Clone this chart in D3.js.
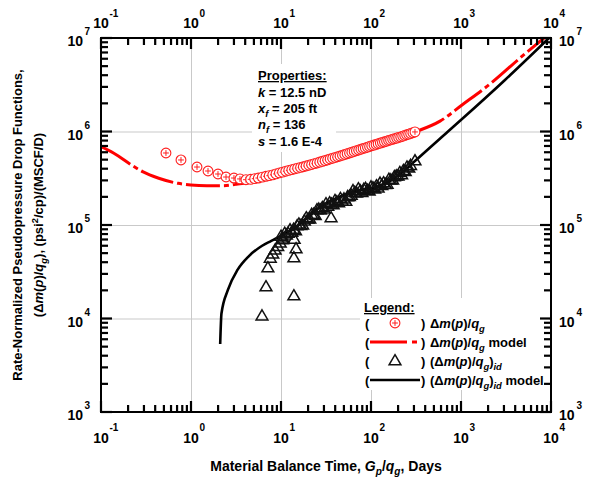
<!DOCTYPE html>
<html>
<head>
<meta charset="utf-8">
<script src="https://cdn.jsdelivr.net/npm/d3@7"></script>
<style>
  body { margin: 0; background: #fff; }
  text { font-family: "Liberation Sans", Arial, sans-serif; font-weight: bold; fill: #000; }
</style>
</head>
<body>
<svg id="chart" width="597" height="481"></svg>
<script>
// Axis decades and their exponent labels
const xDecades = [0.1, 1, 10, 100, 1000, 10000];
const xExponents = ["-1", "0", "1", "2", "3", "4"];
const yDecades = [1e3, 1e4, 1e5, 1e6, 1e7];
const yExponents = ["3", "4", "5", "6", "7"];
const minorSteps = [2, 3, 4, 5, 6, 7, 8, 9];

// Δm(p)/qg field data (material balance time, days)
const rateTime = [0.527, 0.774, 1.166, 1.545, 1.995, 2.45, 3.0, 3.5, 4.08,
  4.6, 5.1, 5.6, 6.2, 6.8, 7.4, 8.1, 8.8, 9.6, 10.4,
  11.3, 12.2, 13.2, 14.2, 15.3, 16.5, 17.7, 19.0, 20.4, 21.9,
  23.5, 25.2, 27.0, 28.9, 30.9, 33.0, 35.2, 37.5, 40.0, 42.6,
  45.3, 48.2, 51.2, 54.4, 57.8, 61.3, 65.0, 68.9, 73.0, 77.3,
  81.8, 86.5, 91.4, 96.5, 102, 108, 114, 120, 127, 134,
  141, 149, 157, 165, 174, 183, 193, 203, 214, 225,
  237, 249, 262, 276, 292, 308];
const rateValue = [589000, 496000, 417000, 378000, 351000, 326000, 318000, 311000, 305000,
  308000, 313000, 318000, 325000, 332000, 337000, 344000, 352000, 361000, 368000,
  376000, 384000, 391000, 398000, 406000, 413000, 420000, 428000, 436000, 444000,
  453000, 461000, 471000, 480000, 489000, 498000, 509000, 518000, 527000, 537000,
  547000, 557000, 568000, 579000, 590000, 601000, 612000, 624000, 634000, 646000,
  658000, 668000, 681000, 692000, 705000, 716000, 728000, 740000, 752000, 764000,
  776000, 789000, 802000, 813000, 826000, 838000, 851000, 865000, 877000, 893000,
  908000, 923000, 938000, 953000, 971000, 989000];

// Δm(p)/qg model
const rateModelTime = [0.1, 0.139, 0.227, 0.29, 0.438, 0.718, 0.995, 1.5, 2.26, 3.14,
  4.7, 7.1, 10.8, 16.3, 24.6, 37.3, 56.5, 85.3, 129, 196,
  308, 585, 1026, 2100, 4530, 8360];
const rateModelValue = [688000, 585000, 428000, 372000, 316000, 279000, 268000, 263000, 263000, 272000,
  288000, 320000, 365000, 409000, 458000, 518000, 586000, 665000, 755000, 855000,
  989000, 1290000, 1920000, 3220000, 6110000, 10000000];

// (Δm(p)/qg)id data
const idealTime = [6.15, 6.81, 7.15, 7.6, 8.1, 8.6, 9.2, 9.8, 10.0, 10.4,
  10.5, 11.0, 11.5, 12.0, 12.6, 13.2, 13.8, 13.9, 13.9, 14.0,
  14.5, 14.7, 15.1, 15.8, 16.6, 17.4, 18.2, 19.1, 20.0, 20.9,
  21.9, 22.9, 24.0, 25.1, 26.3, 27.5, 28.8, 30.2, 31.6, 33.1,
  34.7, 36.0, 36.3, 38.0, 39.8, 41.7, 43.7, 45.7, 47.9, 50.1,
  52.5, 55.0, 57.5, 60.3, 63.1, 66.1, 69.2, 72.4, 75.9, 79.4,
  83.2, 87.1, 91.2, 95.5, 100, 105, 110, 115, 120, 126,
  132, 138, 145, 151, 158, 166, 174, 182, 191, 200,
  209, 219, 229, 240, 251, 263, 275, 308];
const idealValue = [10600, 21700, 34700, 44000, 48600, 53600, 58700, 63800, 75500, 69300,
  72100, 81100, 77600, 81300, 88300, 83200, 89700, 44400, 17400, 70000,
  86500, 55400, 97700, 102000, 98200, 99500, 110000, 119000, 115000, 115000,
  129000, 129000, 126000, 145000, 147000, 144000, 153000, 148000, 168000, 158000,
  172000, 119000, 167000, 164000, 182000, 176000, 172000, 191000, 179000, 189000,
  179000, 200000, 201000, 207000, 232000, 222000, 219000, 243000, 231000, 222000,
  240000, 245000, 234000, 230000, 254000, 249000, 242000, 261000, 247000, 279000,
  264000, 281000, 270000, 272000, 307000, 302000, 301000, 327000, 333000, 332000,
  362000, 344000, 381000, 371000, 415000, 404000, 432000, 483000];

// (Δm(p)/qg)id model
const idealModelTime = [2.11, 2.18, 2.57, 3.30, 4.40, 6.11, 7.80, 10.0, 16.3, 22.7,
  29.1, 40.3, 56.0, 77.6, 108, 150, 226, 308, 717, 1026, 3080, 9500];
const idealModelValue = [5330, 11300, 20200, 33300, 46500, 59600, 67600, 76600, 102600, 137000,
  162000, 191000, 217000, 236000, 251000, 283000, 368000, 483000, 1000000, 1360000, 3560000, 10000000];

const box = { left: 101, right: 551, top: 38, bottom: 412 };
const x = d3.scaleLog().domain([0.1, 1e4]).range([box.left, box.right]);
const y = d3.scaleLog().domain([1e3, 1e7]).range([box.bottom, box.top]);
const plotH = box.bottom - box.top, plotW = box.right - box.left;

const svg = d3.select("#chart");
const FS = 13;

// rich text helper: segments with italic / subscript / superscript parts
function rich(g, px, py, segs, size, anchor, extra) {
  const t = g.append("text").attr("x", px).attr("y", py)
    .attr("font-size", size).attr("text-anchor", anchor || "start");
  if (extra) extra(t);
  let off = 0;
  segs.forEach(s => {
    const target = s.sub ? size * 0.32 : s.sup ? -size * 0.42 : 0;
    const ts = t.append("tspan").text(s.t).attr("dy", target - off);
    off = target;
    if (s.sub || s.sup) ts.attr("font-size", size * 0.72);
    if (s.i) ts.attr("font-style", "italic");
  });
  return t;
}

// gridlines at each decade
const gridX = svg.append("g").attr("transform", `translate(0,${box.bottom})`)
  .call(d3.axisBottom(x).tickValues(xDecades.slice(1, -1)).tickSize(-plotH).tickFormat(""));
const gridY = svg.append("g").attr("transform", `translate(${box.left},0)`)
  .call(d3.axisLeft(y).tickValues(yDecades.slice(1, -1)).tickSize(-plotW).tickFormat(""));
[gridX, gridY].forEach(g => {
  g.select(".domain").remove();
  g.selectAll("line").attr("stroke", "#c9c9c9").attr("stroke-width", 1);
});

// properties block and legend backgrounds
svg.append("rect").attr("x", 252).attr("y", 64).attr("width", 84).attr("height", 88).attr("fill", "#fff");
svg.append("rect").attr("x", 360).attr("y", 298).attr("width", 189).attr("height", 92).attr("fill", "#fff");

// clip to plot area
svg.append("clipPath").attr("id", "plotClip").append("rect")
  .attr("x", box.left).attr("y", box.top).attr("width", plotW).attr("height", plotH);
const plot = svg.append("g").attr("clip-path", "url(#plotClip)");

const line = d3.line().x(d => x(d[0])).y(d => y(d[1])).curve(d3.curveMonotoneX);

plot.append("path").datum(d3.zip(rateModelTime, rateModelValue))
  .attr("d", line).attr("fill", "none").attr("stroke", "#ff0000")
  .attr("stroke-width", 3).attr("stroke-dasharray", "34,4,5,4");
plot.append("path").datum(d3.zip(idealModelTime, idealModelValue))
  .attr("d", line).attr("fill", "none").attr("stroke", "#000")
  .attr("stroke-width", 2.6);

// circle-plus markers
const R = 4.9;
const circ = `M0,${-R}A${R},${R} 0 1,1 0,${R}A${R},${R} 0 1,1 0,${-R}Z`;
const plus = "M-2.9,0H2.9M0,-2.9V2.9";
function circleMark(g) {
  g.append("path").attr("d", circ).attr("fill", "#fff").attr("stroke", "#ff2020").attr("stroke-width", 1.1);
  g.append("path").attr("d", plus).attr("fill", "none").attr("stroke", "#ff2020").attr("stroke-width", 1);
}
// open triangle markers
const tri = "M0,-6.3L5.9,3.8L-5.9,3.8Z";
function triMark(g, fill) {
  g.append("path").attr("d", tri).attr("fill", fill).attr("stroke", "#111").attr("stroke-width", 1.5);
}

plot.selectAll("g.rate").data(d3.zip(rateTime, rateValue)).join("g")
  .attr("class", "rate").attr("transform", d => `translate(${x(d[0])},${y(d[1])})`)
  .each(function () { circleMark(d3.select(this)); });

plot.selectAll("g.ideal").data(d3.zip(idealTime, idealValue)).join("g")
  .attr("class", "ideal").attr("transform", d => `translate(${x(d[0])},${y(d[1])})`)
  .each(function () { triMark(d3.select(this), "none"); });

// frame
svg.append("rect").attr("x", box.left).attr("y", box.top).attr("width", plotW).attr("height", plotH)
  .attr("fill", "none").attr("stroke", "#000").attr("stroke-width", 2);

// inward tick marks on all four sides, drawn as small filled bars:
// long at each decade, short at 2..9
const xTicks = [], yTicks = [];
xDecades.forEach((d, i) => {
  xTicks.push({ v: d, len: 11 });
  if (i < xDecades.length - 1) minorSteps.forEach(m => xTicks.push({ v: d * m, len: 7 }));
});
yDecades.forEach((d, i) => {
  yTicks.push({ v: d, len: 11 });
  if (i < yDecades.length - 1) minorSteps.forEach(m => yTicks.push({ v: d * m, len: 7 }));
});
const TW = 2.2;
const tickLayer = svg.append("g").attr("fill", "#000");
tickLayer.selectAll("rect.xb").data(xTicks).join("rect").attr("class", "xb")
  .attr("x", d => x(d.v) - TW / 2).attr("width", TW)
  .attr("y", d => box.bottom - d.len).attr("height", d => d.len);
tickLayer.selectAll("rect.xt").data(xTicks).join("rect").attr("class", "xt")
  .attr("x", d => x(d.v) - TW / 2).attr("width", TW)
  .attr("y", box.top).attr("height", d => d.len);
tickLayer.selectAll("rect.yl").data(yTicks).join("rect").attr("class", "yl")
  .attr("y", d => y(d.v) - TW / 2).attr("height", TW)
  .attr("x", box.left).attr("width", d => d.len);
tickLayer.selectAll("rect.yr").data(yTicks).join("rect").attr("class", "yr")
  .attr("y", d => y(d.v) - TW / 2).attr("height", TW)
  .attr("x", d => box.right - d.len).attr("width", d => d.len);

// decade labels
const LS = 14;
xDecades.forEach((v, i) => {
  [[443, 431], [28, 17]].forEach(([base, supBase]) => {
    svg.append("text").attr("x", x(v)).attr("y", base).attr("font-size", LS)
      .attr("text-anchor", "middle").text("10");
    svg.append("text").attr("x", x(v) + 8.5).attr("y", supBase).attr("font-size", 10)
      .text(xExponents[i]);
  });
});
yDecades.forEach((v, i) => {
  const py = y(v);
  svg.append("text").attr("x", 83).attr("y", py + 8).attr("font-size", LS)
    .attr("text-anchor", "end").text("10");
  svg.append("text").attr("x", 84.5).attr("y", py - 3).attr("font-size", 10).text(yExponents[i]);
  svg.append("text").attr("x", 559).attr("y", py + 8).attr("font-size", LS).text("10");
  svg.append("text").attr("x", 576.5).attr("y", py - 3).attr("font-size", 10).text(yExponents[i]);
});

// axis titles
rich(svg, 326, 471, [
  { t: "Material Balance Time, " }, { t: "G", i: 1 }, { t: "p", i: 1, sub: 1 },
  { t: "/" }, { t: "q", i: 1 }, { t: "g", i: 1, sub: 1 }, { t: ", Days" }
], 14, "middle");

const yTitle = svg.append("g").attr("transform", "translate(0,225) rotate(-90)");
rich(yTitle, 0, 22, [{ t: "Rate-Normalized Pseudopressure Drop Functions," }], FS, "middle");
rich(yTitle, 0, 43, [
  { t: "(Δ" }, { t: "m", i: 1 }, { t: "(" }, { t: "p", i: 1 }, { t: ")/" }, { t: "q", i: 1 },
  { t: "g", i: 1, sub: 1 }, { t: "), (psi" }, { t: "2", sup: 1 }, { t: "/cp)/(MSCF/D)" }
], FS, "middle");

// properties block
const props = svg.append("g");
rich(props, 258, 80, [{ t: "Properties:" }], FS, "start", t => t.attr("text-decoration", "underline"));
rich(props, 258, 96.5, [{ t: "k", i: 1 }, { t: " = 12.5 nD" }], FS);
rich(props, 258, 112.5, [{ t: "x", i: 1 }, { t: "f", i: 1, sub: 1 }, { t: " = 205 ft" }], FS);
rich(props, 258, 129, [{ t: "n", i: 1 }, { t: "f", i: 1, sub: 1 }, { t: " = 136" }], FS);
rich(props, 258, 146, [{ t: "s", i: 1 }, { t: " = 1.6 E-4" }], FS);

// legend
const leg = svg.append("g");
rich(leg, 364, 312, [{ t: "Legend:" }], FS, "start", t => t.attr("text-decoration", "underline"));
const rows = [328, 347, 366, 385];
const base = [{ t: "Δ" }, { t: "m", i: 1 }, { t: "(" }, { t: "p", i: 1 }, { t: ")/" }, { t: "q", i: 1 }, { t: "g", i: 1, sub: 1 }];
const legendTexts = [
  base.slice(),
  base.concat([{ t: " model" }]),
  [{ t: "(" }].concat(base, [{ t: ")" }, { t: "id", i: 1, sub: 1 }]),
  [{ t: "(" }].concat(base, [{ t: ")" }, { t: "id", i: 1, sub: 1 }, { t: " model" }])
];
rows.forEach((ry, i) => {
  leg.append("text").attr("x", 365).attr("y", ry).attr("font-size", FS).text("(");
  leg.append("text").attr("x", 421).attr("y", ry).attr("font-size", FS).text(")");
  rich(leg, 430, ry, legendTexts[i], FS);
});
const symY = rows.map(r => r - 5);
circleMark(leg.append("g").attr("transform", `translate(395,${symY[0]})`));
leg.append("line").attr("x1", 370).attr("x2", 420).attr("y1", symY[1]).attr("y2", symY[1])
  .attr("stroke", "#ff0000").attr("stroke-width", 3).attr("stroke-dasharray", "37,5,5,4");
triMark(leg.append("g").attr("transform", `translate(395,${symY[2]})`), "#fff");
leg.append("line").attr("x1", 370).attr("x2", 420).attr("y1", symY[3]).attr("y2", symY[3])
  .attr("stroke", "#000").attr("stroke-width", 2.6);
</script>
</body>
</html>
